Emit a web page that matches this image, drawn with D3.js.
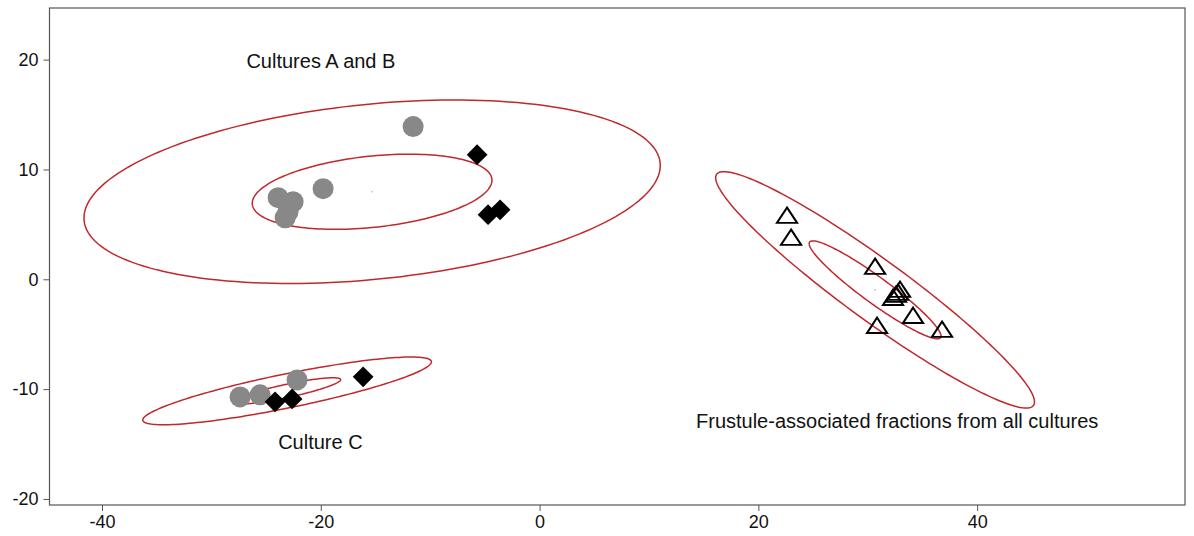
<!DOCTYPE html>
<html>
<head>
<meta charset="utf-8">
<script src="https://cdn.jsdelivr.net/npm/d3@7"></script>
<style>
  body { margin:0; background:#fff; }
  text { font-family: "Liberation Sans", Arial, sans-serif; }
</style>
</head>
<body>
<div id="chart"></div>
<script>
var svgW = 1194, svgH = 536;
var margin = {top:8, right:9, bottom:31, left:49.5};

// Cultures A and B : grey circles / black diamonds
var abCircleX = [-11.56, -19.79, -23.90, -22.53, -22.99, -23.26];
var abCircleY = [13.90, 8.25, 7.43, 7.06, 6.15, 5.60];
var abDiamondX = [-5.71, -4.71, -3.61];
var abDiamondY = [11.34, 5.88, 6.33];

// Culture C
var cCircleX = [-27.38, -25.55, -22.17];
var cCircleY = [-10.71, -10.52, -9.16];
var cDiamondX = [-24.18, -22.62, -16.13];
var cDiamondY = [-11.16, -10.89, -8.88];

// frustule-associated fractions : open triangles
var frTriX = [22.62, 22.99, 30.67, 32.95, 32.77, 32.58, 32.31, 34.14, 30.85, 36.79];
var frTriY = [5.60, 3.60, 0.96, -1.14, -1.41, -1.59, -1.87, -3.51, -4.42, -4.78];

// confidence ellipses (centre, semi axes, rotation in degrees)
var ellCx    = [-15.31, -15.31, 30.67, 30.67, -23.08, -23.08];
var ellCy    = [7.97, 7.97, -0.96, -0.96, -10.16, -10.16];
var ellA     = [26.46, 11.01, 17.9, 7.4, 13.46, 5.0];
var ellB     = [7.97, 3.24, 2.79, 1.2, 1.55, 0.6];
var ellAngle = [5.7, 6.0, -36, -36, 11.5, 12.0];

var xTicks = [-40, -20, 0, 20, 40];
var yTicks = [-20, -10, 0, 10, 20];

var labelText = ['Cultures A and B', 'Culture C', 'Frustule-associated fractions from all cultures'];
var labelX = [-26.8, -23.9, 14.3];
var labelY = [19.25, -15.45, -13.5];

var x = d3.scaleLinear().domain([-44.8, 59.0]).range([margin.left, svgW - margin.right]);
var y = d3.scaleLinear().domain([-20.55, 24.7]).range([svgH - margin.bottom, margin.top]);

var svg = d3.select('#chart').append('svg')
  .attr('width', svgW).attr('height', svgH);

// axes (plain hyphen for negatives, like the original)
var fmt = function(d){ return String(d); };
var gx = svg.append('g')
  .attr('transform', 'translate(0,' + (svgH - margin.bottom) + ')')
  .call(d3.axisBottom(x).tickValues(xTicks).tickFormat(fmt).tickSize(6).tickPadding(4));
var gy = svg.append('g')
  .attr('transform', 'translate(' + margin.left + ',0)')
  .call(d3.axisLeft(y).tickValues(yTicks).tickFormat(fmt).tickSize(6).tickPadding(5));

[gx, gy].forEach(function(g){
  g.select('.domain').remove();
  g.selectAll('line').attr('stroke', '#555');
  g.selectAll('text').attr('font-size', 18).attr('fill', '#111')
    .style('font-family', '"Liberation Sans", Arial, sans-serif');
});

svg.append('rect')
  .attr('x', margin.left).attr('y', margin.top)
  .attr('width', svgW - margin.left - margin.right)
  .attr('height', svgH - margin.top - margin.bottom)
  .attr('fill', 'none').attr('stroke', '#555').attr('stroke-width', 1.2);

// ellipses
function ellipsePoints(i) {
  var pts = [], th = ellAngle[i] * Math.PI / 180;
  for (var k = 0; k < 180; k++) {
    var t = k / 180 * 2 * Math.PI;
    var ex = ellA[i] * Math.cos(t), ey = ellB[i] * Math.sin(t);
    pts.push([ellCx[i] + ex * Math.cos(th) - ey * Math.sin(th),
              ellCy[i] + ex * Math.sin(th) + ey * Math.cos(th)]);
  }
  return pts;
}
var line = d3.line()
  .x(function(d){ return x(d[0]); })
  .y(function(d){ return y(d[1]); })
  .curve(d3.curveLinearClosed);

svg.append('g').selectAll('path')
  .data(d3.range(ellCx.length))
  .enter().append('path')
    .attr('d', function(i){ return line(ellipsePoints(i)); })
    .attr('fill', 'none')
    .attr('stroke', '#c0282b')
    .attr('stroke-width', 1.5);

// tiny centre marks
svg.append('g').selectAll('circle')
  .data([0, 2])
  .enter().append('circle')
    .attr('cx', function(i){ return x(ellCx[i]); })
    .attr('cy', function(i){ return y(ellCy[i]); })
    .attr('r', 0.8)
    .attr('fill', '#aaa');

function pairs(xs, ys) { return xs.map(function(v, i){ return [v, ys[i]]; }); }

// grey circles
svg.append('g').selectAll('circle')
  .data(pairs(abCircleX, abCircleY).concat(pairs(cCircleX, cCircleY)))
  .enter().append('circle')
    .attr('cx', function(d){ return x(d[0]); })
    .attr('cy', function(d){ return y(d[1]); })
    .attr('r', 10.5)
    .attr('fill', '#888');

// black diamonds
var diamond = d3.symbol().type(d3.symbolSquare).size(215);
svg.append('g').selectAll('path')
  .data(pairs(abDiamondX, abDiamondY).concat(pairs(cDiamondX, cDiamondY)))
  .enter().append('path')
    .attr('d', diamond)
    .attr('transform', function(d){ return 'translate(' + x(d[0]) + ',' + y(d[1]) + ') rotate(45)'; })
    .attr('fill', '#000');

// open triangles
var tri = d3.symbol().type(d3.symbolTriangle).size(150);
svg.append('g').selectAll('path')
  .data(pairs(frTriX, frTriY))
  .enter().append('path')
    .attr('d', tri)
    .attr('transform', function(d){ return 'translate(' + x(d[0]) + ',' + y(d[1]) + ') scale(1.08,0.95)'; })
    .attr('fill', 'none')
    .attr('stroke', '#000')
    .attr('stroke-width', 2);

// group labels
svg.append('g').selectAll('text')
  .data(labelText)
  .enter().append('text')
    .attr('x', function(d, i){ return x(labelX[i]); })
    .attr('y', function(d, i){ return y(labelY[i]); })
    .attr('font-size', 20)
    .attr('fill', '#111')
    .text(function(d){ return d; });
</script>
</body>
</html>
